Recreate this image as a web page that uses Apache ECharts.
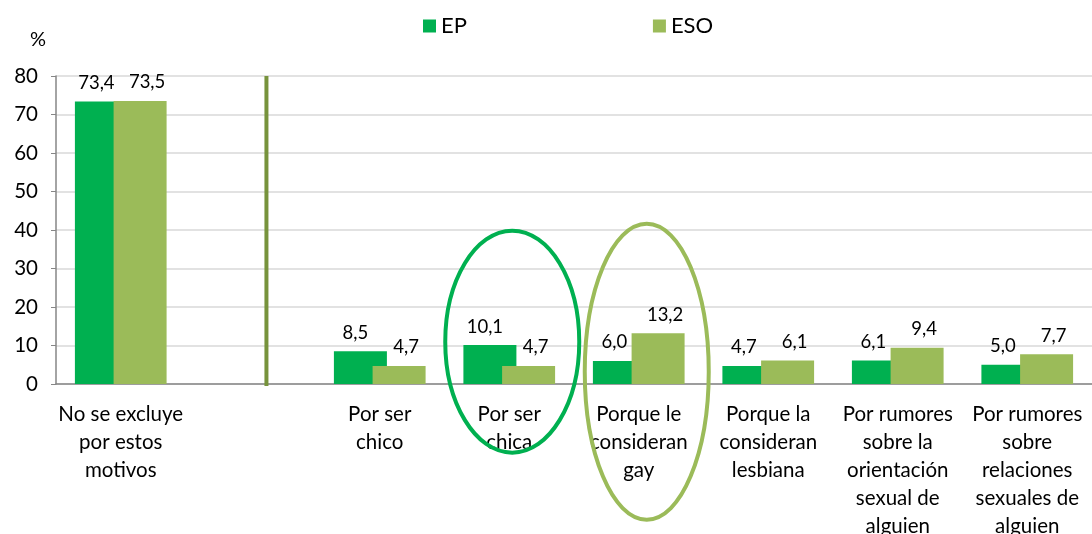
<!DOCTYPE html>
<html>
<head>
<meta charset="utf-8">
<script src="https://cdn.jsdelivr.net/npm/echarts@6/dist/echarts.min.js"></script>
<style>
  html, body { margin: 0; padding: 0; background: #fff; }
  #main { width: 1092px; height: 534px; }
</style>
</head>
<body>
<div id="main"></div>
<script>
// data
var categories = [
  'No se excluye\npor estos\nmotivos',
  '',
  'Por ser\nchico',
  'Por ser\nchica',
  'Porque le\nconsideran\ngay',
  'Porque la\nconsideran\nlesbiana',
  'Por rumores\nsobre la\norientación\nsexual de\nalguien',
  'Por rumores\nsobre\nrelaciones\nsexuales de\nalguien'
];
var epValues = [73.4, null, 8.5, 10.1, 6.0, 4.7, 6.1, 5.0];
var esoValues = [73.5, null, 4.7, 4.7, 13.2, 6.1, 9.4, 7.7];
var yTicks = [0, 10, 20, 30, 40, 50, 60, 70, 80];
var dividerTop = 80;

var FONT = 'Lato, "Open Sans", sans-serif';
var chartDom = document.getElementById('main');
var myChart = echarts.init(chartDom);

var fmt = function (p) { return p.value == null ? '' : p.value.toFixed(1).replace('.', ','); };

var option = {
  animation: false,
  textStyle: { fontFamily: FONT },
  legend: {
    top: 10,
    left: 418,
    itemWidth: 13,
    itemHeight: 13,
    itemGap: 186,
    icon: 'rect',
    textStyle: { fontSize: 22, color: '#000', fontFamily: FONT },
    data: ['EP', 'ESO']
  },
  grid: { left: 56, right: 0, top: 76, bottom: 150, outerBoundsMode: 'none', containLabel: false },
  xAxis: {
    type: 'category',
    data: categories,
    axisLine: { lineStyle: { color: '#868686', width: 1.5 } },
    axisTick: { length: 6, lineStyle: { color: '#868686' } },
    axisLabel: { interval: 0, color: '#000', fontSize: 20.5, lineHeight: 28, margin: 16, fontFamily: FONT }
  },
  yAxis: {
    type: 'value',
    name: '%',
    nameLocation: 'end',
    nameGap: 26,
    nameTextStyle: { color: '#000', fontSize: 20, align: 'right', padding: [0, 10, 0, 0] },
    min: yTicks[0],
    max: yTicks[yTicks.length - 1],
    interval: 10,
    axisLine: { show: true, lineStyle: { color: '#868686', width: 1.5 } },
    axisTick: { show: true, length: 5, lineStyle: { color: '#868686' } },
    axisLabel: { color: '#000', fontSize: 20.5, margin: 18, fontFamily: FONT },
    splitLine: { lineStyle: { color: '#D9D9D9', width: 1.5 } }
  },
  series: [
    {
      name: 'EP',
      type: 'bar',
      data: epValues,
      barWidth: 53,
      barGap: '-27%',
      itemStyle: { color: '#00B050' },
      label: { show: true, position: 'top', distance: 9, offset: [-5, 0], color: '#000', fontSize: 18.5, formatter: fmt }
    },
    {
      name: 'ESO',
      type: 'bar',
      data: esoValues,
      barWidth: 53,
      itemStyle: { color: '#9BBB59' },
      label: { show: true, position: 'top', distance: 9, offset: [7, 0], color: '#000', fontSize: 18.5, formatter: fmt }
    },
    {
      type: 'custom',
      silent: true,
      data: [[1, dividerTop]],
      renderItem: function (params, api) {
        var top = api.coord([api.value(0), api.value(1)]);
        var bottom = api.coord([api.value(0), 0]);
        var band = api.size([1, 0])[0];
        var x = top[0] + band * 0.125;
        return {
          type: 'line',
          shape: { x1: x, y1: top[1], x2: x, y2: bottom[1] + 2 },
          style: { stroke: '#77933C', lineWidth: 4 }
        };
      }
    }
  ]
};

option && myChart.setOption(option);

// highlight ellipses around "Por ser chica" and "Porque le consideran gay"
var c1 = myChart.convertToPixel({ xAxisIndex: 0, yAxisIndex: 0 }, [3, 11]);
var c2 = myChart.convertToPixel({ xAxisIndex: 0, yAxisIndex: 0 }, [4, 3.2]);
myChart.setOption({
  graphic: [
    {
      type: 'ellipse',
      shape: { cx: c1[0] + 3, cy: c1[1], rx: 67, ry: 111 },
      style: { fill: 'none', stroke: '#00B050', lineWidth: 4 },
      z: 100
    },
    {
      type: 'ellipse',
      shape: { cx: c2[0] + 8, cy: c2[1], rx: 62, ry: 148 },
      style: { fill: 'none', stroke: '#9BBB59', lineWidth: 4 },
      z: 100
    }
  ]
});
</script>
</body>
</html>
